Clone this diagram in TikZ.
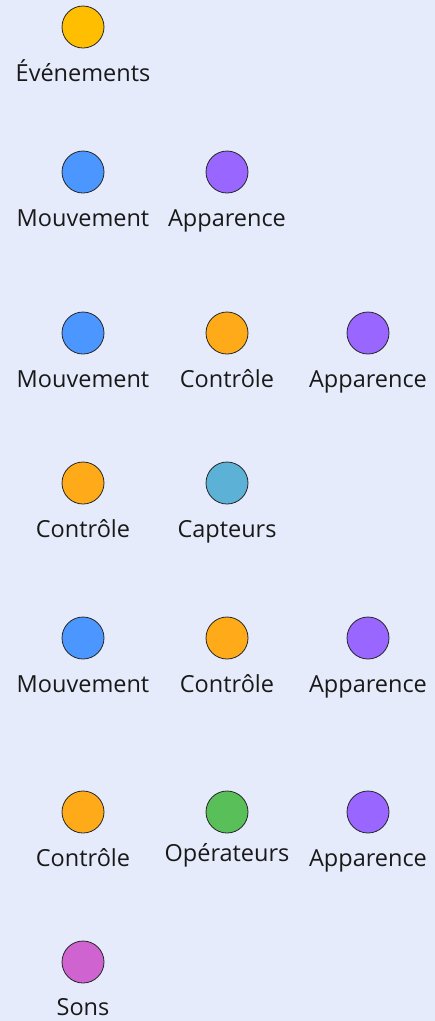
\documentclass[tikz,border=0pt]{standalone}
\usepackage{fontspec}
\setmainfont{Open Sans}
\definecolor{bg}{HTML}{E5EBFA}
\definecolor{events}{HTML}{FFBF00}
\definecolor{motion}{HTML}{4C97FF}
\definecolor{looks}{HTML}{9966FF}
\definecolor{control}{HTML}{FFAB19}
\definecolor{sensing}{HTML}{5CB1D6}
\definecolor{operators}{HTML}{59C059}
\definecolor{sound}{HTML}{CF63CF}
\begin{document}
\begin{tikzpicture}[x=1pt,y=-1pt,
  dot/.style={circle,draw=black!85,line width=0.8pt,minimum size=42pt,inner sep=0pt},
  lbl/.style={font=\fontsize{23.5}{26}\selectfont,text=black!90,inner sep=0pt,anchor=base}]
\fill[bg] (0,0) rectangle (435,1021);
\useasboundingbox (0,0) rectangle (435,1021);
% row 1
\node[dot,fill=events] (e1) at (83,27) {};
\node[lbl] (le1) at (83,81) {Événements};
% row 2
\node[dot,fill=motion] (m2) at (83,172) {};
\node[lbl] (lm2) at (83,226) {Mouvement};
\node[dot,fill=looks] (a2) at (227,172) {};
\node[lbl] (la2) at (227,226) {Apparence};
% row 3
\node[dot,fill=motion] (m3) at (83,333) {};
\node[lbl] (lm3) at (83,387) {Mouvement};
\node[dot,fill=control] (c3) at (227,333) {};
\node[lbl] (lc3) at (227,387) {Contrôle};
\node[dot,fill=looks] (a3) at (368,333) {};
\node[lbl] (la3) at (368,387) {Apparence};
% row 4
\node[dot,fill=control] (c4) at (83,483) {};
\node[lbl] (lc4) at (83,537) {Contrôle};
\node[dot,fill=sensing] (s4) at (227,483) {};
\node[lbl] (ls4) at (227,537) {Capteurs};
% row 5
\node[dot,fill=motion] (m5) at (83,638) {};
\node[lbl] (lm5) at (83,692) {Mouvement};
\node[dot,fill=control] (c5) at (227,638) {};
\node[lbl] (lc5) at (227,692) {Contrôle};
\node[dot,fill=looks] (a5) at (368,638) {};
\node[lbl] (la5) at (368,692) {Apparence};
% row 6
\node[dot,fill=control] (c6) at (83,812) {};
\node[lbl] (lc6) at (83,866) {Contrôle};
\node[dot,fill=operators] (o6) at (227,812) {};
\node[lbl] (lo6) at (227,861) {Opérateurs};
\node[dot,fill=looks] (a6) at (368,812) {};
\node[lbl] (la6) at (368,866) {Apparence};
% row 7
\node[dot,fill=sound] (so7) at (83,962) {};
\node[lbl] (lso7) at (83,1015) {Sons};
\end{tikzpicture}
\end{document}
